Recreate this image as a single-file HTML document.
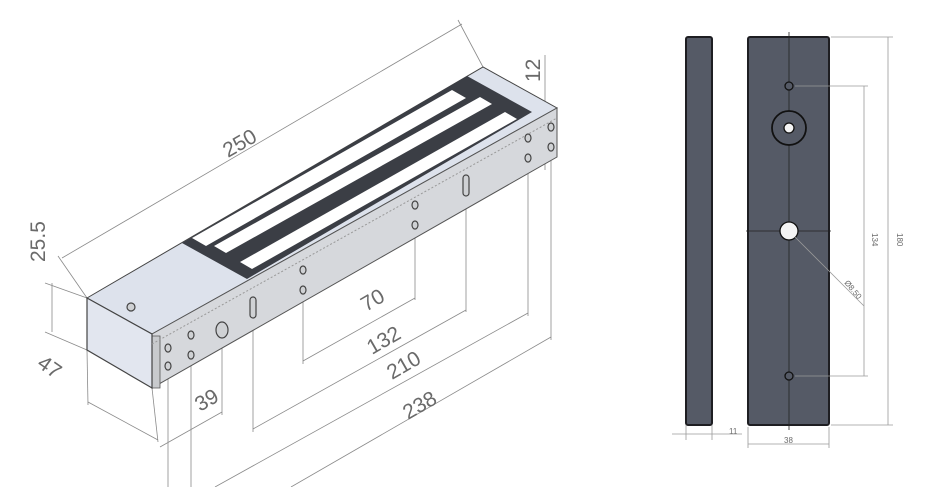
<!DOCTYPE html>
<html><head><meta charset="utf-8"><style>
html,body{margin:0;padding:0;background:#fff;width:931px;height:487px;overflow:hidden;}
svg{display:block;overflow:hidden;}
text{font-family:"Liberation Sans",sans-serif;fill:#6a6a6a;}
</style></head><body>
<svg width="931" height="487" viewBox="0 0 931 487" xmlns="http://www.w3.org/2000/svg">
<g stroke="#8a8a8a" stroke-width="0.8" fill="none">
  <line x1="87" y1="298" x2="58" y2="256"/>
  <line x1="483" y1="67" x2="458" y2="20"/>
  <line x1="62" y1="258" x2="462" y2="24"/>
  <line x1="545" y1="55" x2="545" y2="170"/>
  <line x1="530" y1="127" x2="552" y2="127"/>
  <line x1="530" y1="147" x2="552" y2="147"/>
  <line x1="52" y1="283" x2="52" y2="332"/>
  <line x1="87" y1="298" x2="45" y2="283"/>
  <line x1="87" y1="350" x2="45" y2="332"/>
  <line x1="87" y1="350" x2="88" y2="405"/>
  <line x1="152" y1="388" x2="158" y2="442"/>
  <line x1="88" y1="402" x2="158" y2="440"/>
  <line x1="168" y1="366" x2="168" y2="487"/>
  <line x1="191" y1="355" x2="191" y2="487"/>
  <line x1="222" y1="338" x2="222" y2="415"/>
  <line x1="160" y1="447" x2="222" y2="412"/>
  <line x1="253" y1="318" x2="253" y2="432"/>
  <line x1="303" y1="290" x2="303" y2="364"/>
  <line x1="415" y1="225" x2="415" y2="300"/>
  <line x1="466" y1="195" x2="466" y2="312"/>
  <line x1="528" y1="158" x2="528" y2="316"/>
  <line x1="551" y1="147" x2="551" y2="340"/>
  <line x1="303" y1="361" x2="415" y2="298"/>
  <line x1="253" y1="429" x2="466" y2="310"/>
  <line x1="215" y1="487" x2="528" y2="313"/>
  <line x1="291" y1="487" x2="551" y2="337"/>
</g>
<polygon points="87,298 483,67 557,108 152,334" fill="#dde2ec" stroke="#444" stroke-width="1"/>
<polygon points="182,243 467,76 532,112 247,279" fill="#3b3e45"/>
<polygon points="192,238 452,90 466,98 206,246" fill="#fff"/>
<polygon points="214,246 480,97 492,104 226,253" fill="#fff"/>
<polygon points="240,262 505,112 517,119 252,269" fill="#fff"/>
<polygon points="152,334 557,108 557,157 152,388" fill="#d6d8dc" stroke="#555" stroke-width="1"/>
<polygon points="152,336 160,336 160,388 152,388" fill="#c8cacd" stroke="#555" stroke-width="0.8"/>
<polygon points="87,298 152,334 152,388 87,350" fill="#e2e6ef" stroke="#444" stroke-width="1.2"/>
<line x1="152" y1="344" x2="557" y2="118" stroke="#999" stroke-width="1" stroke-dasharray="2,2"/>
<g fill="#cfd1d4" stroke="#444" stroke-width="1.2">
  <circle cx="131" cy="307" r="4"/>
  <ellipse cx="168" cy="348" rx="3" ry="4"/><ellipse cx="168" cy="366" rx="3" ry="4"/>
  <ellipse cx="191" cy="335" rx="3" ry="4"/><ellipse cx="191" cy="355" rx="3" ry="4"/>
  <ellipse cx="222" cy="330" rx="6" ry="8"/>
  <rect x="250" y="297" width="6" height="21" rx="3"/>
  <ellipse cx="303" cy="270" rx="3" ry="4"/><ellipse cx="303" cy="290" rx="3" ry="4"/>
  <ellipse cx="415" cy="205" rx="3" ry="4"/><ellipse cx="415" cy="225" rx="3" ry="4"/>
  <rect x="463" y="175" width="6" height="21" rx="3"/>
  <ellipse cx="528" cy="138" rx="3" ry="4"/><ellipse cx="528" cy="158" rx="3" ry="4"/>
  <ellipse cx="551" cy="127" rx="3" ry="4"/><ellipse cx="551" cy="147" rx="3" ry="4"/>
</g>
<g font-size="21">
  <text transform="translate(228,158) rotate(-30)">250</text>
  <text transform="translate(540,82) rotate(-90)">12</text>
  <text transform="translate(45,262) rotate(-90)">25.5</text>
  <text transform="translate(36,366) rotate(35)">47</text>
  <text transform="translate(200,412) rotate(-30)">39</text>
  <text transform="translate(366,312) rotate(-30)">70</text>
  <text transform="translate(372,355) rotate(-30)">132</text>
  <text transform="translate(392,380) rotate(-30)">210</text>
  <text transform="translate(408,420) rotate(-30)">238</text>
</g>
<rect x="686" y="37" width="26" height="388" rx="2" fill="#555a66" stroke="#1e1e22" stroke-width="2"/>
<rect x="748" y="37" width="81" height="388" rx="2" fill="#555a66" stroke="#1e1e22" stroke-width="2"/>
<g stroke="#222" stroke-width="0.8">
  <line x1="789" y1="32" x2="789" y2="430"/>
  <line x1="746" y1="231" x2="831" y2="231"/>
</g>
<g stroke="#111" stroke-width="1.3">
  <circle cx="789" cy="86" r="4" fill="#555a66"/>
  <circle cx="789" cy="128" r="17" fill="#555a66" stroke-width="1.8"/>
  <circle cx="789" cy="128" r="5" fill="#f4f4f4"/>
  <circle cx="789" cy="231" r="9" fill="#f4f4f4"/>
  <circle cx="789" cy="376" r="4" fill="#555a66"/>
</g>
<g stroke="#9a9a9a" stroke-width="0.8" fill="none">
  <line x1="831" y1="37" x2="893" y2="37"/>
  <line x1="831" y1="425" x2="893" y2="425"/>
  <line x1="888" y1="37" x2="888" y2="425"/>
  <line x1="795" y1="86" x2="868" y2="86"/>
  <line x1="795" y1="376" x2="868" y2="376"/>
  <line x1="864" y1="86" x2="864" y2="376"/>
  <line x1="795" y1="237" x2="864" y2="306"/>
  <line x1="686" y1="425" x2="686" y2="440"/>
  <line x1="712" y1="425" x2="712" y2="440"/>
  <line x1="672" y1="434" x2="742" y2="434"/>
  <line x1="748" y1="427" x2="748" y2="448"/>
  <line x1="829" y1="427" x2="829" y2="448"/>
  <line x1="748" y1="444" x2="829" y2="444"/>
</g>
<g font-size="8">
  <text transform="translate(897,233) rotate(90)">180</text>
  <text transform="translate(872,233) rotate(90)">134</text>
  <text transform="translate(844,283) rotate(50)">Ø8.50</text>
  <text x="729" y="434">11</text>
  <text x="784" y="443">38</text>
</g>
</svg>
</body></html>
